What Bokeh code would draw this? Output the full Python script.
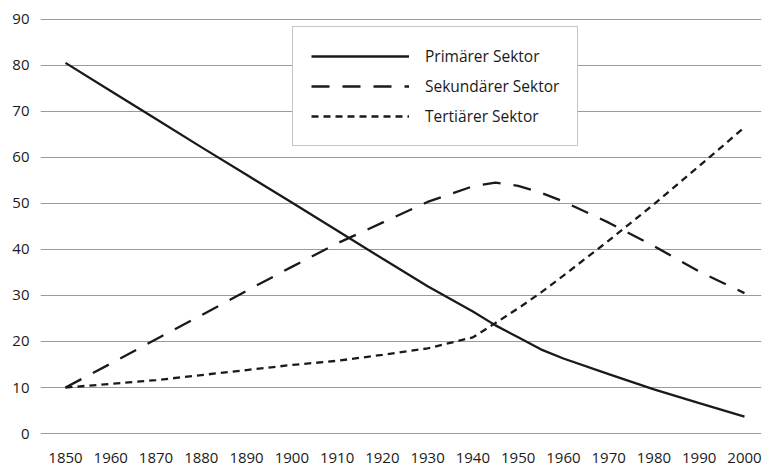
from bokeh.plotting import figure
from bokeh.models import FixedTicker, Legend, LegendItem, Range1d
from bokeh.embed import file_html
from bokeh.resources import INLINE

years = [1850, 1860, 1870, 1880, 1890, 1900, 1910, 1920, 1930, 1940, 1945, 1950, 1955,
         1960, 1970, 1980, 1990, 2000]
primaer = [80.5, 74.4, 68.3, 62.2, 56.2, 50.2, 44.1, 38.0, 32.0, 26.5, 23.5, 20.9, 18.3,
           16.3, 12.9, 9.6, 6.6, 3.7]
sekundaer = [10.0, 15.2, 20.5, 25.7, 31.0, 36.2, 41.3, 45.8, 50.3, 53.7, 54.5, 53.8, 52.3,
             50.4, 45.8, 40.7, 35.2, 30.5]
tertiaer = [10.0, 10.8, 11.6, 12.7, 13.8, 14.9, 15.8, 17.1, 18.5, 20.9, 24.0, 27.2, 30.6,
            34.3, 41.9, 49.8, 58.1, 66.5]

series_names = ["Primärer Sektor", "Sekundärer Sektor", "Tertiärer Sektor"]
x_ticks = [1850, 1860, 1870, 1880, 1890, 1900, 1910, 1920, 1930, 1940, 1950, 1960,
           1970, 1980, 1990, 2000]
x_tick_labels = ["1850", "1960", "1870", "1880", "1890", "1900", "1910", "1920", "1930",
                 "1940", "1950", "1960", "1970", "1980", "1990", "2000"]
y_ticks = [0, 10, 20, 30, 40, 50, 60, 70, 80, 90]

FONT = "Open Sans"
TXT = "#1a1a1a"

p = figure(width=764, height=467, output_backend="svg", toolbar_location=None,
           x_range=Range1d(1844.48, 2003.76), y_range=Range1d(-1.5, 91),
           min_border_left=40, min_border_right=3, min_border_top=14, min_border_bottom=27)
p.outline_line_color = None
p.background_fill_color = "white"
p.border_fill_color = "white"

p.xgrid.grid_line_color = None
p.ygrid.grid_line_color = "#9a9a9a"
p.ygrid.grid_line_width = 1
p.ygrid.ticker = FixedTicker(ticks=y_ticks)

p.xaxis.ticker = FixedTicker(ticks=x_ticks)
p.xaxis.major_label_overrides = {t: l for t, l in zip(x_ticks, x_tick_labels)}
p.yaxis.ticker = FixedTicker(ticks=y_ticks)
for ax in (p.xaxis, p.yaxis):
    ax.axis_line_color = None
    ax.major_tick_line_color = None
    ax.minor_tick_line_color = None
    ax.major_tick_out = 0
    ax.major_tick_in = 0
    ax.major_label_text_font = FONT
    ax.major_label_text_font_size = "15px"
    ax.major_label_text_color = TXT
p.xaxis.major_label_standoff = 12
p.yaxis.major_label_standoff = 11

r1 = p.line(years, primaer, line_color="#1a1a1a", line_width=2.3)
r2 = p.line(years, sekundaer, line_color="#1a1a1a", line_width=2.3, line_dash="18 13")
r3 = p.line(years, tertiaer, line_color="#1a1a1a", line_width=2.3, line_dash="7 5")

legend = Legend(items=[LegendItem(label=series_names[0], renderers=[r1]),
                       LegendItem(label=series_names[1], renderers=[r2]),
                       LegendItem(label=series_names[2], renderers=[r3])],
                location=(252, 294))
legend.label_text_font = FONT
legend.label_text_font_size = "15.5px"
legend.label_text_color = TXT
legend.glyph_width = 98
legend.glyph_height = 20
legend.label_height = 20
legend.label_standoff = 16
legend.padding = 18
legend.spacing = 8
legend.margin = 0
legend.border_line_color = "#8c8c8c"
legend.border_line_width = 1
legend.background_fill_color = "white"
legend.background_fill_alpha = 1
p.add_layout(legend, "center")

open("out.html", "w").write(file_html(p, INLINE))
